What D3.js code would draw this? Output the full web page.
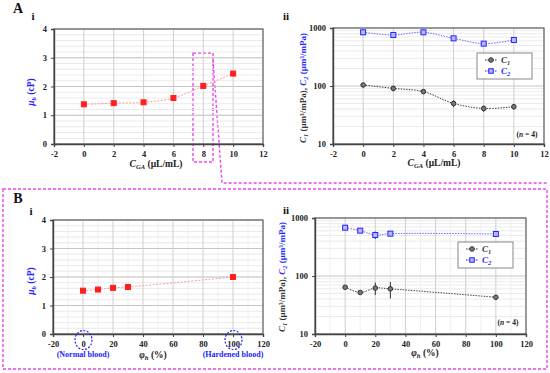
<!DOCTYPE html>
<meta charset="utf-8" />
<style>
  body { margin: 0; background: #fff; }
  svg { font-family: "Liberation Serif", "Times New Roman", serif; font-weight: bold; }
</style>
<body>
<script src="https://d3js.org/d3.v7.min.js"></script>
<script>

// ---- data ----
var gaConc   = [0, 2, 4, 6, 8, 10];
var gaMu     = [1.38, 1.42, 1.45, 1.60, 2.02, 2.45];
var gaMuErr  = [0.03, 0.04, 0.04, 0.04, 0.08, 0.09];
var gaC1     = [104, 91, 80, 50, 41, 44];
var gaC1Err  = [5, 10, 4, 7, 5, 5];
var gaC2     = [843, 758, 843, 664, 537, 621];
var gaC2Err  = [60, 40, 70, 50, 30, 40];

var hardFrac   = [0, 10, 20, 30, 100];
var hardMu     = [1.52, 1.56, 1.62, 1.65, 2.0];
var hardMuErr  = [0.03, 0.03, 0.03, 0.03, 0.04];
var hardC1     = [64, 52, 62, 60, 43];
var hardC1Err  = [4, 3, 15, 19, 4];
var hardC2     = [681, 605, 509, 537, 530];
var hardC2Err  = [40, 30, 75, 30, 25];

var gaTicks   = [-2, 0, 2, 4, 6, 8, 10, 12];
var hardTicks = [-20, 0, 20, 40, 60, 80, 100, 120];
var muTicks   = [0, 1, 2, 3, 4];
var logTicks  = [10, 100, 1000];

var red = "#ff1f1f", blue = "#2323ff", dark = "#333";
var serif = "Liberation Serif";

var svg = d3.select("body").append("svg")
    .attr("width", 550)
    .attr("height", 373);

// draw a framed plot with grid; returns scales
function frame(box, xDom, xTicks, xMinor, yLog) {
  var x = d3.scaleLinear().domain(xDom).range([box.l, box.r]);
  var y = yLog ? d3.scaleLog().domain([10, 1000]).range([box.b, box.t])
               : d3.scaleLinear().domain([0, 4]).range([box.b, box.t]);
  var g = svg.append("g");

  // minor grid
  var yMinor = yLog ? d3.range(2, 10).map(function(d) { return d * 10; })
                        .concat(d3.range(2, 10).map(function(d) { return d * 100; }))
                    : d3.range(0, 4.01, 0.2);
  g.selectAll(".hm").data(yMinor).enter().append("line")
      .attr("x1", box.l).attr("x2", box.r)
      .attr("y1", function(d) { return y(d); }).attr("y2", function(d) { return y(d); })
      .attr("stroke", "#e4e4e4").attr("stroke-width", 0.8);
  g.selectAll(".vm").data(xMinor).enter().append("line")
      .attr("y1", box.t).attr("y2", box.b)
      .attr("x1", function(d) { return x(d); }).attr("x2", function(d) { return x(d); })
      .attr("stroke", "#ececec").attr("stroke-width", 0.8);
  // major grid
  var yMaj = yLog ? logTicks : muTicks;
  g.selectAll(".hM").data(yMaj).enter().append("line")
      .attr("x1", box.l).attr("x2", box.r)
      .attr("y1", function(d) { return y(d); }).attr("y2", function(d) { return y(d); })
      .attr("stroke", "#c4c4c4").attr("stroke-width", 1);
  g.selectAll(".vM").data(xTicks).enter().append("line")
      .attr("y1", box.t).attr("y2", box.b)
      .attr("x1", function(d) { return x(d); }).attr("x2", function(d) { return x(d); })
      .attr("stroke", "#cfcfcf").attr("stroke-width", 1);

  g.append("rect")
      .attr("x", box.l).attr("y", box.t)
      .attr("width", box.r - box.l).attr("height", box.b - box.t)
      .attr("fill", "none").attr("stroke", "#666").attr("stroke-width", 1.2);

  // axes
  var fmt = function(d) { return String(d); };
  var xa = svg.append("g")
      .attr("transform", "translate(0," + box.b + ")")
      .call(d3.axisBottom(x).tickValues(xTicks).tickSize(3).tickPadding(4).tickFormat(fmt));
  var ya = svg.append("g")
      .attr("transform", "translate(" + box.l + ",0)")
      .call(d3.axisLeft(y).tickValues(yMaj).tickSize(3).tickPadding(4).tickFormat(fmt));
  [xa, ya].forEach(function(a) {
    a.attr("font-family", serif).attr("font-size", 8.5);
    a.select(".domain").attr("stroke", "#444").attr("stroke-width", 1.4);
    a.selectAll(".tick line").attr("stroke", "#444");
    a.selectAll("text").attr("font-weight", "bold").attr("fill", "#222");
  });
  return { x: x, y: y, xa: xa };
}

function series(s, xs, ys, errs, opt) {
  var pts = xs.map(function(d, i) { return [d, ys[i], errs[i]]; });
  var line = d3.line()
      .x(function(d) { return s.x(d[0]); })
      .y(function(d) { return s.y(d[1]); })
      .curve(d3.curveCatmullRom.alpha(0.5));
  svg.append("path").datum(pts)
      .attr("d", line)
      .attr("fill", "none")
      .attr("stroke", opt.line)
      .attr("stroke-width", 1)
      .attr("stroke-dasharray", opt.dash);
  var g = svg.append("g");
  g.selectAll("line").data(pts).enter().append("line")
      .attr("x1", function(d) { return s.x(d[0]); })
      .attr("x2", function(d) { return s.x(d[0]); })
      .attr("y1", function(d) { return s.y(d[1] - d[2]); })
      .attr("y2", function(d) { return s.y(d[1] + d[2]); })
      .attr("stroke", opt.color).attr("stroke-width", 1);
  pts.forEach(function(d) {
    marker(g, s.x(d[0]), s.y(d[1]), opt);
  });
}

function marker(g, cx, cy, opt) {
  if (opt.shape === "circle") {
    g.append("circle").attr("cx", cx).attr("cy", cy).attr("r", 2.3)
        .attr("fill", "#777").attr("stroke", opt.color).attr("stroke-width", 1);
  } else {
    var h = opt.size / 2;
    g.append("rect").attr("x", cx - h).attr("y", cy - h)
        .attr("width", opt.size).attr("height", opt.size)
        .attr("fill", opt.fill).attr("stroke", opt.color).attr("stroke-width", 1);
  }
}

function txt(x, y, size, color, anchor) {
  return svg.append("text").attr("x", x).attr("y", y)
      .attr("font-size", size).attr("fill", color || "#222")
      .attr("text-anchor", anchor || "middle");
}

function sub(t, main, s, color, italicMain) {
  t.append("tspan").attr("fill", color).attr("font-style", italicMain ? "italic" : null).text(main);
  t.append("tspan").attr("fill", color).attr("font-style", "italic")
      .attr("font-size", "70%").attr("dy", 2).text(s);
  return t.append("tspan").attr("dy", -2);
}

function legend(bx, by, s) {
  svg.append("rect").attr("x", bx).attr("y", by).attr("width", 55).attr("height", 26)
      .attr("fill", "#fff").attr("stroke", "#888").attr("stroke-width", 1);
  var g = svg.append("g");
  g.append("line").attr("x1", bx + 8).attr("x2", bx + 20).attr("y1", by + 7).attr("y2", by + 7)
      .attr("stroke", dark).attr("stroke-dasharray", "1.5,1");
  marker(g, bx + 14, by + 7, { shape: "circle", color: dark });
  g.append("line").attr("x1", bx + 8).attr("x2", bx + 20).attr("y1", by + 18).attr("y2", by + 18)
      .attr("stroke", blue).attr("stroke-dasharray", "1.5,1");
  marker(g, bx + 14, by + 18, { shape: "rect", size: 4.5, color: blue, fill: "#b8b8ff" });
  var t1 = txt(bx + 24, by + 10, 9, dark, "start");
  sub(t1, "C", "1", dark, true);
  var t2 = txt(bx + 24, by + 21, 9, blue, "start");
  sub(t2, "C", "2", blue, true);
}

function nText(x, y) {
  var t = txt(x, y, 7.5, "#222");
  t.append("tspan").text("(");
  t.append("tspan").attr("font-style", "italic").text("n");
  t.append("tspan").text(" = 4)");
}

function cLabel(x, y) {
  var t = svg.append("text")
      .attr("transform", "translate(" + x + "," + y + ")rotate(-90)")
      .attr("text-anchor", "middle").attr("font-size", 9);
  var r = sub(t, "C", "1", dark, true);
  r.attr("fill", dark).text(" (\u03bcm\u00b3/mPa),  ");
  var r2 = sub(t, "C", "2", blue, true);
  r2.attr("fill", blue).text(" (\u03bcm\u00b3/mPa)");
}

function muLabel(x, y) {
  var t = svg.append("text")
      .attr("transform", "translate(" + x + "," + y + ")rotate(-90)")
      .attr("text-anchor", "middle").attr("font-size", 9.5);
  var r = sub(t, "\u03bc", "b", blue, true);
  r.attr("fill", blue).text(" (cP)");
}

// ---- magenta zoom box and outline ----
var mag = "#ee44ee";
svg.append("rect").attr("x", 193).attr("y", 53).attr("width", 20).attr("height", 109)
    .attr("fill", "none").attr("stroke", mag).attr("stroke-width", 1.4).attr("stroke-dasharray", "3,2");
svg.append("path").attr("d", "M213,60L222,183L547,183")
    .attr("fill", "none").attr("stroke", mag).attr("stroke-width", 1.4).attr("stroke-dasharray", "3,2");
svg.append("rect").attr("x", 3).attr("y", 189).attr("width", 544).attr("height", 180)
    .attr("fill", "none").attr("stroke", mag).attr("stroke-width", 1.4).attr("stroke-dasharray", "3,2");

// ---- panel A i ----
var a1 = frame({ l: 54, r: 263, t: 29, b: 144 }, [-2, 12], gaTicks, [], false);
series(a1, gaConc, gaMu, gaMuErr, { shape: "rect", size: 5, color: red, fill: red, line: "#ff9a9a", dash: "2,1.5" });
muLabel(34, 92);
var xl = txt(156, 167, 9.5, "#222");
sub(xl, "C", "GA", "#222", true).text(" (\u03bcL/mL)");

// ---- panel A ii ----
var a2 = frame({ l: 333, r: 544, t: 28, b: 144 }, [-2, 12], gaTicks, [], true);
series(a2, gaConc, gaC1, gaC1Err, { shape: "circle", color: dark, line: "#444", dash: "1.5,1.2" });
series(a2, gaConc, gaC2, gaC2Err, { shape: "rect", size: 5, color: blue, fill: "#b8b8ff", line: "#6a6aff", dash: "1.5,1.2" });
legend(477, 53, a2);
nText(527, 137);
cLabel(306, 88);
var xl2 = txt(434, 166, 9.5, "#222");
sub(xl2, "C", "GA", "#222", true).text(" (\u03bcL/mL)");

// ---- panel B i ----
var b1 = frame({ l: 53, r: 263, t: 220, b: 334 }, [-20, 120], hardTicks, [-10, 10, 30, 50, 70, 90, 110], false);
series(b1, hardFrac, hardMu, hardMuErr, { shape: "rect", size: 5, color: red, fill: red, line: "#ff9a9a", dash: "2,1.5" });
muLabel(34, 281);
var xl3 = txt(153, 358, 9.5, "#222");
sub(xl3, "\u03c6", "h", "#222", true).text(" (%)");
txt(83, 357, 8, blue).text("(Normal blood)");
txt(233, 357, 8, blue).text("(Hardened blood)");
[0, 100].forEach(function(v) {
  svg.append("ellipse").attr("cx", b1.x(v) + 0.5).attr("cy", 340)
      .attr("rx", 8.5).attr("ry", 9.5)
      .attr("fill", "none").attr("stroke", blue).attr("stroke-width", 1.2).attr("stroke-dasharray", "2,1.5");
});

// ---- panel B ii ----
var b2 = frame({ l: 315, r: 526, t: 218, b: 334 }, [-20, 120], hardTicks, [-10, 10, 30, 50, 70, 90, 110], true);
series(b2, hardFrac, hardC1, hardC1Err, { shape: "circle", color: dark, line: "#444", dash: "1.5,1.2" });
series(b2, hardFrac, hardC2, hardC2Err, { shape: "rect", size: 5, color: blue, fill: "#b8b8ff", line: "#6a6aff", dash: "1.5,1.2" });
legend(458, 242, b2);
nText(508, 325);
cLabel(285, 277);
var xl4 = txt(425, 356, 9.5, "#222");
sub(xl4, "\u03c6", "h", "#222", true).text(" (%)");

// ---- panel letters ----
txt(18, 13, 14, "#111").text("A");
txt(33, 20, 11, "#111").text("i");
txt(286, 20, 11, "#111").text("ii");
txt(18, 203, 14, "#111").text("B");
txt(31, 215, 11, "#111").text("i");
txt(286, 214, 11, "#111").text("ii");

</script>
</body>
